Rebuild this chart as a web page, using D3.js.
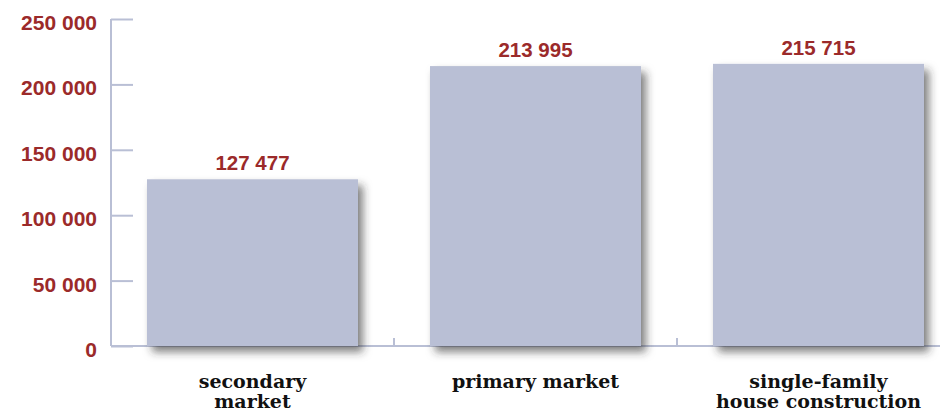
<!DOCTYPE html>
<html>
<head>
<meta charset="utf-8">
<script src="https://cdn.jsdelivr.net/npm/d3@7"></script>
<style>
  html, body { margin: 0; padding: 0; background: #fff; }
  svg { display: block; }
</style>
</head>
<body>
<svg id="chart" width="940" height="413"></svg>
<script>
// Housing market volumes by segment
const categories = [["secondary", "market"], ["primary market"], ["single-family", "house construction"]];
const values = [127477, 213995, 215715];
const tickValues = [0, 50000, 100000, 150000, 200000, 250000];

const W = 940, H = 413;
const margin = { left: 111, top: 19, bottom: 67 };
const plotBottom = H - margin.bottom; // 346
const bandW = 283;

const labelColor = "#9b2a2a";
const axisColor = "#b9bfd5";
const barColor = "#b9bfd5";

const fmt = v => d3.format(",")(v).replace(/,/g, " ");

const svg = d3.select("#chart");

const defs = svg.append("defs");
const f = defs.append("filter").attr("id", "shadow")
  .attr("x", "-10%").attr("y", "-10%").attr("width", "130%").attr("height", "130%");
f.append("feDropShadow").attr("dx", 5).attr("dy", 6).attr("stdDeviation", 4)
  .attr("flood-color", "#2b2b2b").attr("flood-opacity", 0.6);

const x = d3.scaleBand()
  .domain(d3.range(categories.length))
  .range([margin.left, margin.left + bandW * categories.length])
  .paddingInner(72 / bandW)
  .paddingOuter(36 / bandW);

const y = d3.scaleLinear().domain([0, 250000]).range([plotBottom, margin.top]);

// Y axis: line with ticks pointing into the plot
const yAxis = d3.axisRight(y).tickValues(tickValues).tickSize(22).tickFormat("");
const yg = svg.append("g").attr("transform", `translate(${margin.left},0)`).call(yAxis);
yg.select(".domain").attr("stroke", axisColor).attr("stroke-width", 2).attr("d", `M0,${margin.top}V${plotBottom}`);
yg.selectAll(".tick line").attr("stroke", axisColor).attr("stroke-width", 2);

// Y tick labels
svg.append("g").selectAll("text").data(tickValues).join("text")
  .attr("x", 97).attr("y", d => y(d) + 11)
  .attr("text-anchor", "end")
  .attr("font-family", "Liberation Sans, Arial, sans-serif")
  .attr("font-weight", "bold").attr("font-size", 21)
  .attr("fill", labelColor)
  .text(fmt);

// Baseline with category separators
svg.append("line")
  .attr("x1", margin.left).attr("x2", W).attr("y1", plotBottom).attr("y2", plotBottom)
  .attr("stroke", axisColor).attr("stroke-width", 2);
const sepX = d3.range(1, categories.length).map(i => margin.left + bandW * i);
svg.append("g").selectAll("line").data(sepX).join("line")
  .attr("x1", d => d).attr("x2", d => d)
  .attr("y1", plotBottom - 8).attr("y2", plotBottom)
  .attr("stroke", axisColor).attr("stroke-width", 2);

// Bars
svg.append("g").selectAll("rect").data(values).join("rect")
  .attr("x", (d, i) => x(i)).attr("width", x.bandwidth())
  .attr("y", d => y(d)).attr("height", d => plotBottom - y(d))
  .attr("fill", barColor)
  .attr("filter", "url(#shadow)");

// Value labels
svg.append("g").selectAll("text").data(values).join("text")
  .attr("x", (d, i) => x(i) + x.bandwidth() / 2)
  .attr("y", d => y(d) - 9)
  .attr("text-anchor", "middle")
  .attr("font-family", "Liberation Sans, Arial, sans-serif")
  .attr("font-weight", "bold").attr("font-size", 20.5)
  .attr("fill", labelColor)
  .text(fmt);

// Category labels
const cg = svg.append("g").selectAll("text").data(categories).join("text")
  .attr("x", (d, i) => x(i) + x.bandwidth() / 2)
  .attr("y", 388)
  .attr("text-anchor", "middle")
  .attr("font-family", "DejaVu Serif, serif")
  .attr("font-weight", "bold").attr("font-size", 19)
  .attr("fill", "#111");
cg.selectAll("tspan").data(d => d).join("tspan")
  .attr("x", function () { return d3.select(this.parentNode).attr("x"); })
  .attr("dy", (d, i) => i === 0 ? 0 : 20)
  .text(d => d);
</script>
</body>
</html>
